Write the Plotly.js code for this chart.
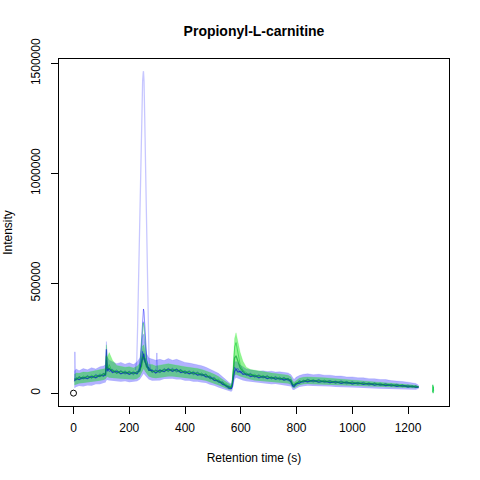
<!DOCTYPE html>
<html>
<head>
<meta charset="utf-8">
<script src="https://cdn.plot.ly/plotly-3.0.1.min.js"></script>
<style>html,body{margin:0;padding:0;background:#fff;}#chart{width:480px;height:480px;}</style>
</head>
<body>
<div id="chart"></div>
<script>
// Retention times (s) of the sampled profile
const times = [3,10,20,35,50,65,80,95,108,115,118,121,128,140,155,170,185,200,215,228,238,244,248,252,256,262,270,282,295,310,325,340,355,370,385,400,415,430,445,460,475,490,505,520,535,548,558,566,570,574,578,583,590,598,608,620,635,650,665,680,695,710,725,740,755,770,780,786,791,798,810,825,840,860,880,900,920,940,960,980,1000,1020,1040,1060,1080,1100,1120,1140,1160,1180,1200,1215,1228,1238];

// Envelope of the blue chromatograms (upper / lower)
const blueUpper = [100000,110000,102000,112000,106000,116000,110000,120000,124000,130000,235000,165000,150000,142000,134000,140000,132000,138000,130000,142000,160000,210000,260000,270000,230000,180000,160000,156000,150000,154000,148000,158000,150000,154000,146000,140000,137000,134000,128000,125000,118000,110000,100000,90000,76000,60000,48000,42000,70000,120000,140000,145000,135000,128000,120000,110000,106000,104000,100000,102000,98000,100000,96000,97000,93000,92000,84000,68000,62000,72000,80000,86000,88000,84000,86000,82000,82000,78000,78000,74000,74000,70000,70000,66000,66000,62000,62000,57000,56000,53000,50000,47000,44000,36000];
const blueLower = [22000,28000,32000,30000,35000,34000,40000,40000,46000,48000,58000,60000,58000,56000,55000,52000,54000,50000,52000,54000,62000,72000,82000,88000,82000,72000,62000,56000,58000,58000,64000,66000,66000,62000,62000,56000,56000,52000,52000,48000,46000,38000,34000,26000,20000,12000,8000,6000,12000,36000,62000,70000,66000,62000,58000,54000,52000,48000,48000,45000,44000,41000,42000,39000,38000,35000,30000,16000,14000,20000,28000,31000,34000,32000,32000,30000,30000,28000,28000,26000,26000,24000,24000,22000,21000,20000,19000,18000,16000,16000,14000,15000,16000,20000];

// Envelope of the green chromatograms (upper / lower)
const greenUpper = [85000,92000,90000,96000,95000,99000,100000,104000,108000,112000,220000,160000,185000,150000,126000,122000,118000,120000,115000,122000,135000,180000,215000,220000,190000,150000,130000,130000,124000,128000,130000,134000,130000,128000,124000,120000,118000,116000,112000,108000,102000,94000,86000,76000,62000,50000,40000,36000,60000,160000,250000,275000,235000,185000,145000,118000,108000,104000,100000,98000,95000,92000,90000,88000,85000,82000,74000,56000,50000,58000,68000,72000,74000,72000,72000,70000,68000,66000,64000,62000,60000,58000,57000,55000,54000,52000,50000,48000,46000,44000,42000,40000,36000,30000];
const greenLower = [36000,40000,44000,46000,48000,50000,54000,56000,60000,64000,70000,75000,70000,68000,66000,66000,64000,64000,62000,66000,75000,90000,105000,110000,100000,88000,76000,70000,68000,70000,74000,76000,76000,74000,72000,68000,66000,64000,62000,60000,56000,50000,44000,36000,28000,20000,16000,14000,25000,55000,80000,85000,80000,76000,72000,66000,62000,58000,56000,54000,52000,50000,50000,48000,46000,44000,38000,24000,22000,28000,36000,40000,42000,41000,40000,40000,38000,36000,36000,35000,34000,33000,32000,30000,30000,28000,27000,26000,25000,24000,22000,22000,22000,25000];

// Dense core traces
const blueCore = [55000,66000,62000,71000,66000,76000,70000,82000,78000,86000,200000,100000,112000,94000,100000,88000,96000,86000,94000,88000,108000,140000,170000,180000,145000,130000,104000,104000,92000,104000,98000,110000,100000,108000,94000,98000,88000,94000,82000,86000,74000,74000,58000,56000,40000,34000,22000,22000,30000,70000,100000,108000,96000,100000,86000,88000,76000,80000,70000,76000,66000,72000,64000,68000,60000,64000,50000,34000,30000,42000,46000,56000,52000,58000,50000,55000,48000,52000,45000,50000,42000,47000,40000,44000,37000,41000,34000,38000,31000,35000,28000,32000,26000,28000];
const greenCore = [64000,62000,72000,67000,76000,70000,80000,76000,88000,84000,170000,118000,110000,104000,92000,100000,90000,96000,88000,96000,102000,125000,165000,160000,155000,120000,114000,96000,102000,96000,108000,102000,108000,100000,104000,92000,98000,88000,92000,82000,84000,68000,66000,52000,48000,32000,30000,26000,50000,100000,160000,170000,140000,115000,98000,84000,86000,76000,80000,72000,76000,68000,72000,64000,68000,60000,58000,40000,38000,44000,52000,54000,60000,54000,58000,52000,55000,48000,52000,46000,49000,43000,46000,40000,44000,37000,40000,34000,37000,31000,33000,29000,31000,27000];
const blueMid = [68000,60000,76000,64000,80000,68000,85000,74000,92000,80000,150000,122000,98000,108000,90000,102000,86000,100000,84000,100000,98000,150000,190000,150000,160000,118000,118000,94000,106000,92000,112000,98000,113000,96000,108000,88000,102000,84000,96000,78000,88000,64000,72000,48000,52000,28000,34000,20000,46000,90000,118000,108000,112000,92000,100000,80000,90000,72000,84000,68000,80000,64000,76000,60000,72000,56000,62000,32000,42000,36000,58000,48000,64000,50000,62000,48000,58000,44000,56000,42000,52000,40000,50000,36000,47000,34000,44000,31000,41000,29000,37000,27000,34000,26000];
const greenMid = [54000,72000,62000,78000,66000,82000,72000,88000,78000,96000,120000,104000,130000,96000,106000,88000,102000,86000,100000,86000,112000,120000,180000,175000,140000,132000,102000,108000,92000,108000,96000,114000,98000,112000,94000,104000,88000,100000,82000,92000,74000,80000,58000,64000,40000,42000,24000,30000,36000,130000,210000,230000,180000,130000,104000,92000,80000,86000,72000,82000,66000,76000,62000,74000,58000,68000,50000,44000,30000,48000,44000,60000,52000,62000,48000,60000,46000,56000,44000,54000,40000,50000,40000,48000,36000,46000,34000,42000,31000,39000,28000,34000,26000,30000];

// Individual peak traces near 250 s
const bigPeakTimes = [222,227,230,233,236,239,242,245,248,250,251,253,255,257,259,262,265,268,271,276,282];
const bigPeakValues = [105000,150000,300000,500000,750000,1000000,1150000,1300000,1420000,1455000,1465000,1420000,1330000,1150000,1000000,750000,500000,300000,150000,110000,100000];
const midPeakTimes = [232,236,240,243,246,249,251,253,256,259,263,268,276];
const midPeakValues = [100000,115000,160000,230000,300000,360000,383000,370000,300000,220000,150000,115000,100000];
const lowPeakTimes = [236,241,245,248,251,254,258,262,270];
const lowPeakValues = [105000,150000,230000,290000,325000,300000,230000,150000,105000];
const greenPeakTimes = [234,239,243,247,250,253,256,260,265,272];
const greenPeakValues = [100000,140000,210000,280000,320000,300000,240000,170000,120000,100000];

// Isolated spikes and trailing segment
const spikeTimes = [4,5,7,null,296,299,302];
const spikeValues = [60000,188000,70000,null,100000,183000,100000];
const tailTimes = [1288,1289,1290,1291,1292];
const tailValues = [5000,38000,0,30000,8000];
const originTime = [0];
const originValue = [0];

// Axis ticks
const xTicks = [0,200,400,600,800,1000,1200];
const yTicks = [0,500000,1000000,1500000];
const yTickLabels = ['0','500000','1000000','1500000'];

const BLUE_FILL = 'rgba(0,0,255,0.30)';
const GREEN_FILL = 'rgba(0,225,0,0.42)';

const traces = [
  {x: times, y: blueLower, mode:'lines', line:{width:0, color:BLUE_FILL}, hoverinfo:'skip'},
  {x: times, y: blueUpper, mode:'lines', fill:'tonexty', fillcolor:BLUE_FILL, line:{width:0.6, color:'rgba(0,0,255,0.2)'}, hoverinfo:'skip'},
  {x: times, y: greenLower, mode:'lines', line:{width:0, color:GREEN_FILL}, hoverinfo:'skip'},
  {x: times, y: greenUpper, mode:'lines', fill:'tonexty', fillcolor:GREEN_FILL, line:{width:0.6, color:'rgba(0,255,0,0.25)'}, hoverinfo:'skip'},
  {x: times, y: blueMid, mode:'lines', line:{width:1, color:'rgba(0,0,255,0.4)'}},
  {x: times, y: greenMid, mode:'lines', line:{width:1, color:'rgba(0,200,40,0.5)'}},
  {x: times, y: blueCore, mode:'lines', line:{width:1.3, color:'rgba(0,0,220,0.6)'}},
  {x: times, y: greenCore, mode:'lines', line:{width:1.3, color:'rgba(0,160,50,0.65)'}},
  {x: bigPeakTimes, y: bigPeakValues, mode:'lines', line:{width:1.3, color:'rgba(0,0,255,0.22)'}},
  {x: midPeakTimes, y: midPeakValues, mode:'lines', line:{width:1, color:'rgba(0,0,255,0.45)'}},
  {x: lowPeakTimes, y: lowPeakValues, mode:'lines', line:{width:1, color:'rgba(0,0,255,0.25)'}},
  {x: greenPeakTimes, y: greenPeakValues, mode:'lines', line:{width:1, color:'rgba(0,255,0,0.3)'}},
  {x: spikeTimes, y: spikeValues, mode:'lines', line:{width:1, color:'rgba(0,0,255,0.22)'}, connectgaps:false},
  {x: tailTimes, y: tailValues, mode:'lines', line:{width:1, color:'rgba(0,200,60,0.6)'}},
  {x: originTime, y: originValue, mode:'markers', marker:{symbol:'circle-open', size:6, color:'#000', line:{width:1, color:'#000'}}}
];

const axisCommon = {
  ticks:'outside', ticklen:7, tickwidth:1, tickcolor:'#000',
  showline:true, mirror:true, linecolor:'#000', linewidth:1,
  showgrid:false, zeroline:false,
  tickfont:{size:12, color:'#000'}
};

const layout = {
  width:480, height:480,
  margin:{l:59, r:31, t:59, b:74, pad:0},
  paper_bgcolor:'#fff', plot_bgcolor:'#fff',
  showlegend:false,
  font:{family:'"Liberation Sans", Arial, sans-serif', size:12, color:'#000'},
  title:{text:'Propionyl-L-carnitine', font:{size:14, weight:'bold', color:'#000'}, x:0.5, xref:'paper', xanchor:'center', y:1-31/480, yref:'container', yanchor:'middle'},
  xaxis:Object.assign({}, axisCommon, {
    range:[-52,1347], tickvals:xTicks, ticktext:xTicks.map(String),
    ticklabelstandoff:4,
    title:{text:'Retention time (s)', standoff:19, font:{size:12, color:'#000'}}
  }),
  yaxis:Object.assign({}, axisCommon, {
    range:[-58480,1520480], tickvals:yTicks, ticktext:yTickLabels, tickangle:-90,
    ticklabelstandoff:6,
    title:{text:'Intensity', standoff:14, font:{size:12, color:'#000'}}
  })
};

Plotly.newPlot('chart', traces, layout, {staticPlot:true, displayModeBar:false});
</script>
</body>
</html>
